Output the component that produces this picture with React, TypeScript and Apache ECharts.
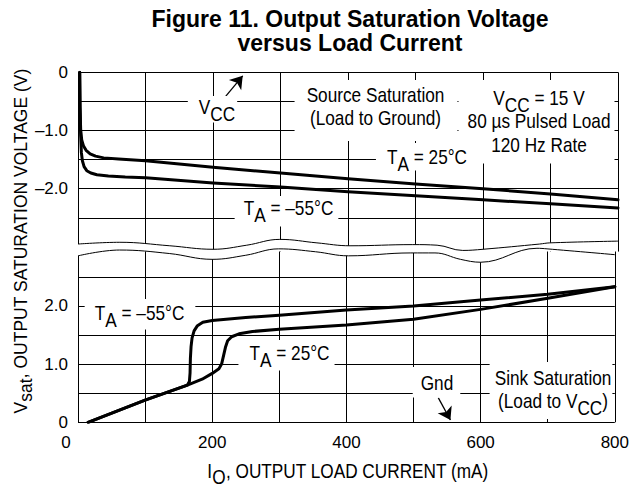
import React, { useEffect, useRef } from "react";
import * as echarts from "echarts";

// ---- data (I_O in mA, V_sat in V) ----
const sourceAt25C: [number, number][] = [
  [2.5, 0], [3, -0.6], [4, -1.0], [5.5, -1.16], [8, -1.26], [12, -1.34], [18, -1.4], [26, -1.44],
  [38, -1.47], [60, -1.49], [100, -1.52], [200, -1.63], [300, -1.73], [400, -1.83], [500, -1.92],
  [600, -2.0], [700, -2.09], [800, -2.19],
];
const sourceAtMinus55C: [number, number][] = [
  [2.5, 0], [3, -0.6], [4, -1.1], [5, -1.38], [6.5, -1.52], [9, -1.62], [13, -1.69], [19, -1.73],
  [28, -1.76], [45, -1.78], [70, -1.8], [100, -1.81], [200, -1.9], [300, -1.97], [400, -2.05],
  [500, -2.12], [600, -2.19], [700, -2.26], [800, -2.33],
];
const sinkAt25C: [number, number][] = [
  [15, 0], [100, 0.38], [163, 0.64], [185, 0.74], [200, 0.84], [210, 0.92], [214, 1.0], [217, 1.15],
  [220, 1.3], [223, 1.4], [229, 1.47], [240, 1.52], [260, 1.56], [300, 1.6], [400, 1.67], [500, 1.77],
  [600, 1.94], [700, 2.13], [800, 2.33],
];
const sinkAtMinus55C: [number, number][] = [
  [15, 0], [100, 0.38], [163, 0.64], [166, 0.7], [167, 0.85], [167.5, 1.1], [168.5, 1.3], [170, 1.45],
  [173, 1.57], [178, 1.66], [186, 1.72], [200, 1.75], [250, 1.8], [300, 1.84], [400, 1.93], [500, 2.0],
  [600, 2.1], [700, 2.2], [800, 2.33],
];
// axis break (wavy) edges
const topBreakWave: [number, number][] = [
  [0, -2.95], [62, -2.92], [136, -2.98], [200, -3.04], [250, -2.97], [299, -2.87], [354, -2.93],
  [403, -2.98], [496, -2.96], [532, -2.97], [570, -3.06], [600, -3.04], [684, -2.95], [699, -2.93], [800, -2.9],
];
const bottomBreakWave: [number, number][] = [
  [0, 2.86], [62, 2.96], [136, 2.9], [200, 2.8], [250, 2.87], [299, 2.98], [354, 2.93], [403, 2.86],
  [496, 2.91], [532, 2.91], [570, 2.8], [600, 2.75], [684, 2.99], [699, 2.98], [800, 2.88],
];
const xTickLabels = [0, 200, 400, 600, 800];
const topYLabels = [0, -1, -2];
const bottomYLabels = [0, 1, 2];
const topGridLevels = [0, -0.5, -1, -1.5, -2, -2.5];
const bottomGridLevels = [0, 0.5, 1, 1.5, 2, 2.5];
const vccArrow: [number, number][] = [[219, -0.41], [244, -0.06]];
const gndArrow: [number, number][] = [[537, 0.42], [555, 0.04]];

const REG = '"Liberation Sans", Arial, Helvetica, sans-serif';
const NARROW_SCALE = 0.82; // Helvetica Narrow look, drawn with Liberation Sans squeezed

const near = (a: number, b: number) => Math.abs(a - b) < 1e-6;

const noteRich = {
  m: { fontFamily: REG, fontSize: 21, lineHeight: 23.5, verticalAlign: "top", fill: "#000" },
  s: { fontFamily: REG, fontSize: 21, lineHeight: 10, padding: [7, 0, 0, 0], verticalAlign: "top", fill: "#000" },
};

// padding given in screen pixels [top, right, bottom, left]
const note = (text: string, x: number, y: number, p: number[]) => ({
  type: "text",
  x,
  y,
  z: 100,
  scaleX: NARROW_SCALE,
  silent: true,
  style: {
    text,
    rich: noteRich,
    fontFamily: REG,
    fontSize: 21,
    align: "center",
    verticalAlign: "top",
    backgroundColor: "#fff",
    padding: [p[0], p[1] / NARROW_SCALE, p[2], p[3] / NARROW_SCALE],
    fill: "#000",
  },
});

const gridLineMark = (levels: number[]) => ({
  silent: true,
  symbol: ["none", "none"],
  label: { show: false },
  lineStyle: { color: "#000", width: 1, type: "solid" },
  emphasis: { disabled: true },
  data: levels.map((v) => ({ yAxis: v })),
});

const arrowMark = (pts: [number, number][]) => ({
  silent: true,
  symbol: ["none", "arrow"],
  symbolSize: 12,
  label: { show: false },
  lineStyle: { color: "#000", width: 1.3, type: "solid" },
  emphasis: { disabled: true },
  data: [[{ coord: pts[0] }, { coord: pts[1] }]],
});

const curve = (data: [number, number][], axis: number, extra: any = {}) => ({
  type: "line",
  xAxisIndex: axis,
  yAxisIndex: axis,
  data,
  symbol: "none",
  z: 150,
  silent: true,
  lineStyle: { color: "#000", width: 3, join: "round", cap: "round" },
  ...extra,
});

const extend = (w: [number, number][]) => [[-4, w[0][1]], ...w, [804, w[w.length - 1][1]]];

export default function App() {
  const ref = useRef<HTMLDivElement>(null);
  useEffect(() => {
    if (!ref.current) return;
    const chart = echarts.init(ref.current, undefined, { renderer: "svg" });
    const option: any = {
      animation: false,
      backgroundColor: "#fff",
      grid: [
        { left: 78, right: 14, top: 72.3, height: 179.3 },
        { left: 78, right: 14, top: 250.6, height: 171.7 },
      ],
      xAxis: [
        {
          type: "value", gridIndex: 0, min: 0, max: 800, interval: 100, position: "top",
          axisLine: { show: false }, axisTick: { show: false }, axisLabel: { show: false },
          splitLine: { show: true, lineStyle: { color: "#000", width: 1 } },
        },
        {
          type: "value", gridIndex: 1, min: 0, max: 800, interval: 100, position: "bottom",
          axisLine: { show: false }, axisTick: { show: false },
          axisLabel: {
            show: true, margin: 12, color: "#000", fontSize: 17, fontFamily: REG,
            formatter: (v: number) =>
              xTickLabels.some((t) => near(t, v)) ? (near(v, 0) ? "{z|0}" : String(Math.round(v))) : "",
            rich: { z: { fontSize: 17, fontFamily: REG, color: "#000", padding: [0, 24, 0, 0] } },
          },
          splitLine: { show: true, lineStyle: { color: "#000", width: 1 } },
        },
      ],
      yAxis: [
        {
          type: "value", gridIndex: 0, min: -3.08, max: 0, splitNumber: 6,
          axisLine: { show: false }, axisTick: { show: false }, splitLine: { show: false },
          axisLabel: {
            margin: 10, color: "#000", fontSize: 17, fontFamily: REG,
            formatter: (v: number) => {
              const t = topYLabels.find((l) => near(l, v));
              if (t === undefined) return "";
              return t === 0 ? "0" : "\u2013" + Math.abs(t).toFixed(1);
            },
          },
        },
        {
          type: "value", gridIndex: 1, min: 0, max: 2.95, splitNumber: 6,
          axisLine: { show: false }, axisTick: { show: false }, splitLine: { show: false },
          axisLabel: {
            margin: 10, color: "#000", fontSize: 17, fontFamily: REG,
            formatter: (v: number) => {
              const t = bottomYLabels.find((l) => near(l, v));
              if (t === undefined) return "";
              return t === 0 ? "0" : t.toFixed(1);
            },
          },
        },
      ],
      series: [
        {
          type: "line", xAxisIndex: 0, yAxisIndex: 0, data: extend(topBreakWave), symbol: "none",
          smooth: 0.4, clip: false, silent: true, z: 1,
          lineStyle: { width: 0, opacity: 0 },
          areaStyle: { color: "#fff", opacity: 1, origin: "start" },
          markLine: gridLineMark(topGridLevels),
        },
        {
          type: "line", xAxisIndex: 1, yAxisIndex: 1, data: extend(bottomBreakWave), symbol: "none",
          smooth: 0.4, clip: false, silent: true, z: 1,
          lineStyle: { width: 0, opacity: 0 },
          areaStyle: { color: "#fff", opacity: 1, origin: "end" },
          markLine: gridLineMark(bottomGridLevels),
        },
        {
          type: "line", xAxisIndex: 0, yAxisIndex: 0, data: topBreakWave, symbol: "none",
          smooth: 0.4, clip: false, silent: true, z: 3, lineStyle: { color: "#000", width: 1 },
        },
        {
          type: "line", xAxisIndex: 1, yAxisIndex: 1, data: bottomBreakWave, symbol: "none",
          smooth: 0.4, clip: false, silent: true, z: 3, lineStyle: { color: "#000", width: 1 },
        },
        curve(sourceAt25C, 0, { markLine: arrowMark(vccArrow) }),
        curve(sourceAtMinus55C, 0),
        curve(sinkAt25C, 1, { markLine: arrowMark(gndArrow) }),
        curve(sinkAtMinus55C, 1),
      ],
      graphic: [
        {
          type: "text", x: 350, y: 7, z: 100, silent: true,
          style: {
            text: "Figure 11. Output Saturation Voltage\nversus Load Current",
            fontFamily: REG, fontWeight: "bold", fontSize: 23, lineHeight: 24,
            align: "center", verticalAlign: "top", fill: "#000",
          },
        },
        {
          type: "text", x: 22, y: 241, rotation: Math.PI / 2, z: 100, silent: true,
          style: {
            text: "{m|V}{s|sat}{m|, OUTPUT SATURATION VOLTAGE (V)}",
            rich: {
              m: { fontFamily: REG, fontSize: 17.5, lineHeight: 20, verticalAlign: "top", fill: "#000" },
              s: { fontFamily: REG, fontSize: 17.5, lineHeight: 8, padding: [5, 0, 0, 0], verticalAlign: "top", fill: "#000" },
            },
            align: "center", verticalAlign: "middle",
          },
        },
        {
          type: "text", x: 348, y: 460, z: 100, scaleX: NARROW_SCALE, silent: true,
          style: {
            text: "{m|I}{s|O}{m|, OUTPUT LOAD CURRENT (mA)}",
            rich: {
              m: { fontFamily: REG, fontSize: 21, lineHeight: 22, verticalAlign: "top", fill: "#000" },
              s: { fontFamily: REG, fontSize: 21, lineHeight: 14, padding: [6, 0, 0, 0], verticalAlign: "top", fill: "#000" },
            },
            align: "center", verticalAlign: "top",
          },
        },
        note("{m|V}{s|CC}", 212.5, 96, [0, 2, 3, 11]),
        note("{m|Source Saturation}\n{m|(Load to Ground)}", 376, 80, [4, 13, 10, 12]),
        note("{m|V}{s|CC}{m| = 15 V}\n{m|80 \u00b5s Pulsed Load}\n{m|120 Hz Rate}", 536.5, 80, [7, 4, 6, 9]),
        note("{m|T}{s|A}{m| = 25\u00b0C}", 422.5, 143, [3, 2, 1, 11]),
        note("{m|T}{s|A}{m| = \u201355\u00b0C}", 286.5, 196, [1, 5, 6, 9]),
        note("{m|T}{s|A}{m| = \u201355\u00b0C}", 140, 299, [3, 11, 4, 10]),
        note("{m|T}{s|A}{m| = 25\u00b0C}", 286.5, 340, [2, 5, 5, 11]),
        note("{m|Gnd}", 436.5, 367, [5, 7, 2, 8]),
        note("{m|Sink Saturation}\n{m|(Load to V}{s|CC}{m|)}", 551, 362, [5, 1, 5, 5]),
      ],
    };
    chart.setOption(option);
    return () => chart.dispose();
  }, []);
  return (
    <div
      ref={ref}
      style={{ position: "fixed", left: 0, top: 0, width: 632, height: 487, background: "#fff" }}
    />
  );
}
